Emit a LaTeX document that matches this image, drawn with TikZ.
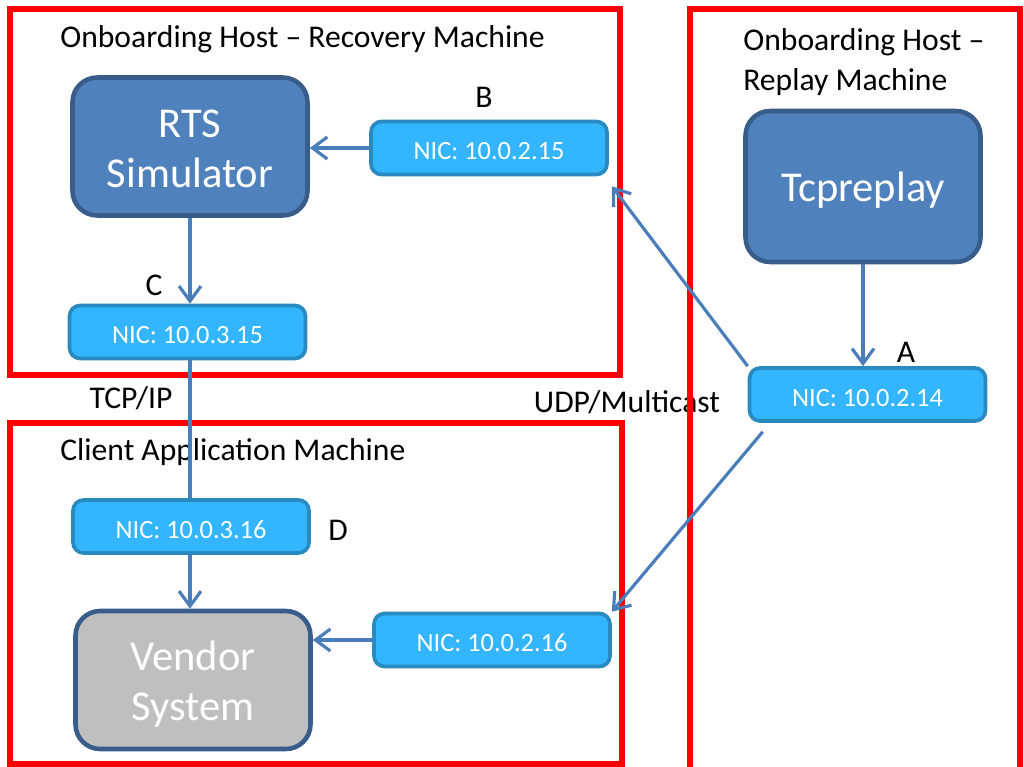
\documentclass[tikz,border=0pt]{standalone}
\usepackage{fontspec}
\setmainfont{Carlito}
\usetikzlibrary{arrows.meta}
\definecolor{hostred}{RGB}{255,0,0}
\definecolor{appfill}{RGB}{79,129,189}
\definecolor{appborder}{RGB}{56,93,138}
\definecolor{nicfill}{RGB}{51,181,255}
\definecolor{nicborder}{RGB}{41,138,192}
\definecolor{vendorfill}{RGB}{191,191,191}
\definecolor{edgeblue}{RGB}{74,126,187}

\begin{document}
\begin{tikzpicture}[x=0.02cm,y=-0.02cm]
\tikzset{host/.style = {draw=hostred, line width=3.3pt}}
\tikzset{nic/.style = {shape=rectangle, rounded corners=6pt, draw=nicborder, fill=nicfill, line width=2.1pt, minimum width=4.72cm, minimum height=1.06cm, text=white, text height=13.6pt, text depth=0pt, font=\fontsize{15}{18}\selectfont}}
\tikzset{app/.style = {shape=rectangle, rounded corners=14pt, draw=appborder, fill=appfill, line width=2.6pt, minimum width=4.7cm, minimum height=2.76cm, text=white, align=center, text height=47pt, text depth=0pt, font=\fontsize{24.2}{28.5}\selectfont}}
\tikzset{tag/.style = {inner sep=0pt, font=\fontsize{18}{22.7}\selectfont}}
\tikzset{edge/.style = {-{Straight Barb[length=8.5pt,width=12.5pt]}, draw=edgeblue, line width=1.8pt}}
\useasboundingbox (0,0) rectangle (1024,767);

% titles and labels
\node[tag,anchor=base west] (trec) at (60,48) {Onboarding Host -- Recovery Machine};
\node[tag,anchor=north west,align=left] (trep) at (743,28) {Onboarding Host --\\Replay Machine};
\node[tag,anchor=base west] (tcli) at (60,460) {Client Application Machine};
\node[tag,anchor=base] (lb) at (484,108) {B};
\node[tag,anchor=base] (lc) at (154,295) {C};
\node[tag,anchor=base] (la) at (906,362) {A};
\node[tag,anchor=base] (ld) at (338,540) {D};
\node[tag,anchor=base] (ltcp) at (131,408) {TCP/IP};
\node[tag,anchor=base] (ludp) at (627,412) {UDP/Multicast};

% machines
\draw[host] (10,9) rectangle (620,375);
\draw[host] (690,9) rectangle (1020,780);
\draw[host] (10,423) rectangle (622,764);

% vertices
\node[app] (rts) at (190,146.5) {RTS\\Simulator};
\node[nic] (nicb) at (489,148) {NIC: 10.0.2.15};
\node[nic] (nicc) at (187.5,332) {NIC: 10.0.3.15};
\node[app,minimum height=3.02cm,text height=17.6pt] (tcp) at (863,186.5) {Tcpreplay};
\node[nic] (nica) at (867.5,394.5) {NIC: 10.0.2.14};
\node[nic] (nicd) at (191,526.5) {NIC: 10.0.3.16};
\node[app,fill=vendorfill,text height=46.5pt] (vendor) at (193,680) {Vendor\\System};
\node[nic] (nice) at (492,640) {NIC: 10.0.2.16};

% edges
\draw[edge] (nicb) -- (rts.east |- nicb);
\draw[edge] (rts.south) -- (rts.south |- nicc.north);
\draw[edge,-] (nicc.south -| rts) -- (rts |- nicd.north);
\draw[edge] (nicd.south -| rts) -- (rts |- vendor.north);
\draw[edge] (nice) -- (vendor.east |- nice);
\draw[edge] (tcp.south) -- (tcp.south |- nica.north);
\draw[edge] (nica.north west) -- ([shift={(3,10)}]nicb.south east);
\draw[edge] ([shift={(15,9)}]nica.south west) -- (nice.north east);

\end{tikzpicture}
\end{document}
